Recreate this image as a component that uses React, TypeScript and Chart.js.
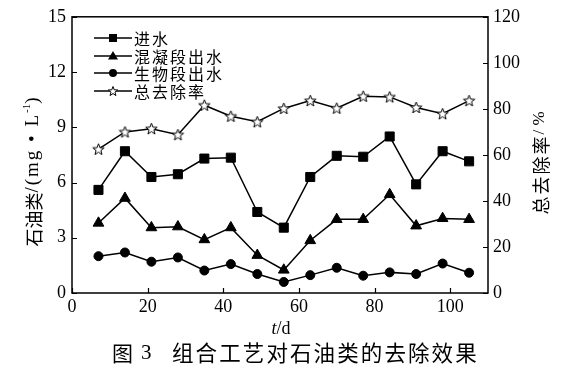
import React, { useEffect, useRef } from 'react';
import { Chart, registerables } from 'chart.js';

Chart.register(...registerables);

// ---- data ----
const days = [7, 14, 21, 28, 35, 42, 49, 56, 63, 70, 77, 84, 91, 98, 105];
const influent = [5.6, 7.7, 6.3, 6.45, 7.3, 7.35, 4.4, 3.55, 6.3, 7.45, 7.4, 8.5, 5.9, 7.7, 7.15];
const coagEffluent = [3.8, 5.15, 3.55, 3.6, 2.9, 3.55, 2.05, 1.25, 2.85, 4.0, 4.0, 5.35, 3.65, 4.05, 4.0];
const bioEffluent = [2.0, 2.2, 1.7, 1.93, 1.22, 1.57, 1.03, 0.6, 0.97, 1.37, 0.94, 1.12, 1.03, 1.6, 1.1];
const removalRate = [62.5, 70, 71.4, 68.8, 81.6, 76.8, 74.4, 80.2, 83.6, 80.3, 85.5, 85.2, 80.6, 77.9, 83.6];
const seriesNames = ['进水', '混凝段出水', '生物段出水', '总去除率'];
const xTickValues = [0, 20, 40, 60, 80, 100];
const leftTickValues = [0, 3, 6, 9, 12, 15];
const rightTickValues = [0, 20, 40, 60, 80, 100, 120];
const captionLabel = '图';
const captionNumber = '3';
const captionText = '组合工艺对石油类的去除效果';

const SERIF = '"Liberation Serif", "Times New Roman", serif';
const CJK = '"Noto Sans CJK SC", sans-serif';

function starPath(ctx: CanvasRenderingContext2D, cx: number, cy: number, R: number, r: number) {
  ctx.beginPath();
  for (let i = 0; i < 10; i++) {
    const ang = -Math.PI / 2 + (i * Math.PI) / 5;
    const rad = i % 2 === 0 ? R : r;
    const x = cx + rad * Math.cos(ang);
    const y = cy + rad * Math.sin(ang);
    if (i === 0) ctx.moveTo(x, y);
    else ctx.lineTo(x, y);
  }
  ctx.closePath();
}

function makeStar(R: number) {
  const size = Math.ceil(R * 2 + 3);
  const c = document.createElement('canvas');
  c.width = size;
  c.height = size;
  const g = c.getContext('2d')!;
  starPath(g, size / 2, size / 2 + 0.5, R, R * 0.42);
  g.fillStyle = '#fff';
  g.fill();
  g.strokeStyle = '#000';
  g.lineWidth = 1;
  g.stroke();
  return c;
}

type Seg = { t: string; f: string; dy: number; ls: number };

function drawSegs(ctx: any, segs: Seg[], cx: number, cy: number) {
  let total = 0;
  segs.forEach((s) => {
    ctx.font = s.f;
    ctx.letterSpacing = `${s.ls}px`;
    total += ctx.measureText(s.t).width;
  });
  let x = cx - total / 2;
  ctx.textBaseline = 'middle';
  ctx.textAlign = 'left';
  segs.forEach((s) => {
    ctx.font = s.f;
    ctx.letterSpacing = `${s.ls}px`;
    ctx.fillText(s.t, x, cy + s.dy);
    x += ctx.measureText(s.t).width;
  });
  ctx.letterSpacing = '0px';
}

const overlay = {
  id: 'overlay',
  afterDraw(chart: any) {
    const { ctx, chartArea: a, scales } = chart;
    ctx.save();
    // frame
    ctx.strokeStyle = '#000';
    ctx.lineWidth = 1.5;
    ctx.strokeRect(a.left, a.top, a.right - a.left, a.bottom - a.top);
    // inward ticks
    ctx.lineWidth = 1.2;
    ctx.beginPath();
    xTickValues.forEach((v) => {
      const px = Math.round(scales.x.getPixelForValue(v)) + 0.5;
      ctx.moveTo(px, a.bottom);
      ctx.lineTo(px, a.bottom - 5);
    });
    leftTickValues.forEach((v) => {
      const py = Math.round(scales.y.getPixelForValue(v)) + 0.5;
      ctx.moveTo(a.left, py);
      ctx.lineTo(a.left + 5, py);
    });
    rightTickValues.forEach((v) => {
      const py = Math.round(scales.y1.getPixelForValue(v)) + 0.5;
      ctx.moveTo(a.right, py);
      ctx.lineTo(a.right - 5, py);
    });
    ctx.stroke();

    // legend
    const lx0 = 94, lx1 = 132, mx = 113, tx = 134;
    const rows = [38, 56, 73, 91];
    ctx.lineWidth = 1.5;
    ctx.fillStyle = '#000';
    ctx.strokeStyle = '#000';
    rows.forEach((y, i) => {
      ctx.beginPath();
      ctx.moveTo(lx0, y);
      ctx.lineTo(lx1, y);
      ctx.stroke();
      if (i === 0) {
        ctx.fillRect(mx - 4, y - 4, 8, 8);
      } else if (i === 1) {
        ctx.beginPath();
        ctx.moveTo(mx, y - 5);
        ctx.lineTo(mx + 5, y + 3.5);
        ctx.lineTo(mx - 5, y + 3.5);
        ctx.closePath();
        ctx.fill();
      } else if (i === 2) {
        ctx.beginPath();
        ctx.arc(mx, y, 4, 0, Math.PI * 2);
        ctx.fill();
      } else {
        ctx.lineWidth = 1;
        starPath(ctx, mx, y + 0.5, 5, 2.1);
        ctx.fillStyle = '#fff';
        ctx.fill();
        ctx.stroke();
        ctx.fillStyle = '#000';
        ctx.lineWidth = 1.5;
      }
      ctx.font = `16px ${CJK}`;
      ctx.textBaseline = 'middle';
      ctx.textAlign = 'left';
      const chars = Array.from(seriesNames[i]);
      chars.forEach((ch, k) => ctx.fillText(ch, tx + k * 18, y + 1));
    });

    // left axis title (rotated)
    ctx.save();
    ctx.translate(33, 172);
    ctx.rotate(-Math.PI / 2);
    drawSegs(ctx, [
      { t: '石油类', f: `18px ${CJK}`, dy: 1, ls: 0 },
      { t: '/(mg • L', f: `19px ${SERIF}`, dy: 0, ls: 2 },
      { t: '-1', f: `11px ${SERIF}`, dy: -6, ls: 0 },
      { t: ')', f: `19px ${SERIF}`, dy: 0, ls: 0 },
    ], 0, 0);
    ctx.restore();

    // right axis title
    ctx.save();
    ctx.translate(540, 163);
    ctx.rotate(-Math.PI / 2);
    drawSegs(ctx, [
      { t: '总去除率', f: `18px ${CJK}`, dy: 1, ls: 2 },
      { t: '/ %', f: `17px ${SERIF}`, dy: 0, ls: 0 },
    ], 0, 0);
    ctx.restore();

    // x title
    ctx.fillStyle = '#000';
    drawSegs(ctx, [
      { t: 't', f: `italic 18px ${SERIF}`, dy: 0, ls: 0 },
      { t: '/d', f: `18px ${SERIF}`, dy: 0, ls: 0 },
    ], 281, 329);

    // caption
    ctx.textBaseline = 'middle';
    ctx.textAlign = 'left';
    ctx.font = `21px ${CJK}`;
    ctx.fillText(captionLabel, 112, 353);
    ctx.font = `21px ${SERIF}`;
    ctx.fillText(captionNumber, 141, 353);
    ctx.font = `21.5px ${CJK}`;
    Array.from(captionText).forEach((ch, k) => ctx.fillText(ch, 172 + k * 23.6, 353));
    ctx.restore();
  },
};

export default function App() {
  const ref = useRef<HTMLCanvasElement | null>(null);
  useEffect(() => {
    if (!ref.current) return;
    const star = makeStar(6);
    const common = {
      borderColor: '#000',
      backgroundColor: '#000',
      pointBorderColor: '#000',
      pointBackgroundColor: '#000',
      borderWidth: 1.5,
      pointBorderWidth: 1,
      tension: 0,
    };
    const chart = new Chart(ref.current, {
      type: 'line',
      data: {
        datasets: [
          { ...common, label: seriesNames[0], data: days.map((d, i) => ({ x: d, y: influent[i] })), pointStyle: 'rect', pointRadius: 6.4, yAxisID: 'y' },
          { ...common, label: seriesNames[1], data: days.map((d, i) => ({ x: d, y: coagEffluent[i] })), pointStyle: 'triangle', pointRadius: 6.2, yAxisID: 'y' },
          { ...common, label: seriesNames[2], data: days.map((d, i) => ({ x: d, y: bioEffluent[i] })), pointStyle: 'circle', pointRadius: 4.5, yAxisID: 'y' },
          { ...common, label: seriesNames[3], data: days.map((d, i) => ({ x: d, y: removalRate[i] })), pointStyle: star as any, pointRadius: 6, yAxisID: 'y1' },
        ] as any,
      },
      options: {
        animation: false,
        responsive: false,
        maintainAspectRatio: false,
        devicePixelRatio: 1,
        layout: { padding: { top: 16, left: 0, right: 0, bottom: 0 } },
        plugins: { legend: { display: false }, tooltip: { enabled: false }, title: { display: false } },
        scales: {
          x: {
            type: 'linear',
            min: 0,
            max: 110,
            grid: { display: false, drawTicks: false },
            border: { display: false },
            ticks: { color: '#000', font: { family: SERIF, size: 18 }, padding: 3, maxRotation: 0 },
            afterBuildTicks: (s: any) => { s.ticks = xTickValues.map((v) => ({ value: v })); },
            afterFit: (s: any) => { s.height = 75; },
          },
          y: {
            type: 'linear',
            position: 'left',
            min: 0,
            max: 15,
            grid: { display: false, drawTicks: false },
            border: { display: false },
            ticks: { color: '#000', font: { family: SERIF, size: 18 }, padding: 6 },
            afterBuildTicks: (s: any) => { s.ticks = leftTickValues.map((v) => ({ value: v })); },
            afterFit: (s: any) => { s.width = 72; },
          },
          y1: {
            type: 'linear',
            position: 'right',
            min: 0,
            max: 120,
            grid: { display: false, drawTicks: false },
            border: { display: false },
            ticks: { color: '#000', font: { family: SERIF, size: 18 }, padding: 5 },
            afterBuildTicks: (s: any) => { s.ticks = rightTickValues.map((v) => ({ value: v })); },
            afterFit: (s: any) => { s.width = 82; },
          },
        },
      } as any,
      plugins: [overlay],
    });
    return () => chart.destroy();
  }, []);
  return (
    <div style={{ position: 'absolute', left: 0, top: 0, width: 570, height: 368, background: '#fff' }}>
      <canvas ref={ref} width={570} height={368} style={{ width: 570, height: 368, display: 'block' }} />
    </div>
  );
}
